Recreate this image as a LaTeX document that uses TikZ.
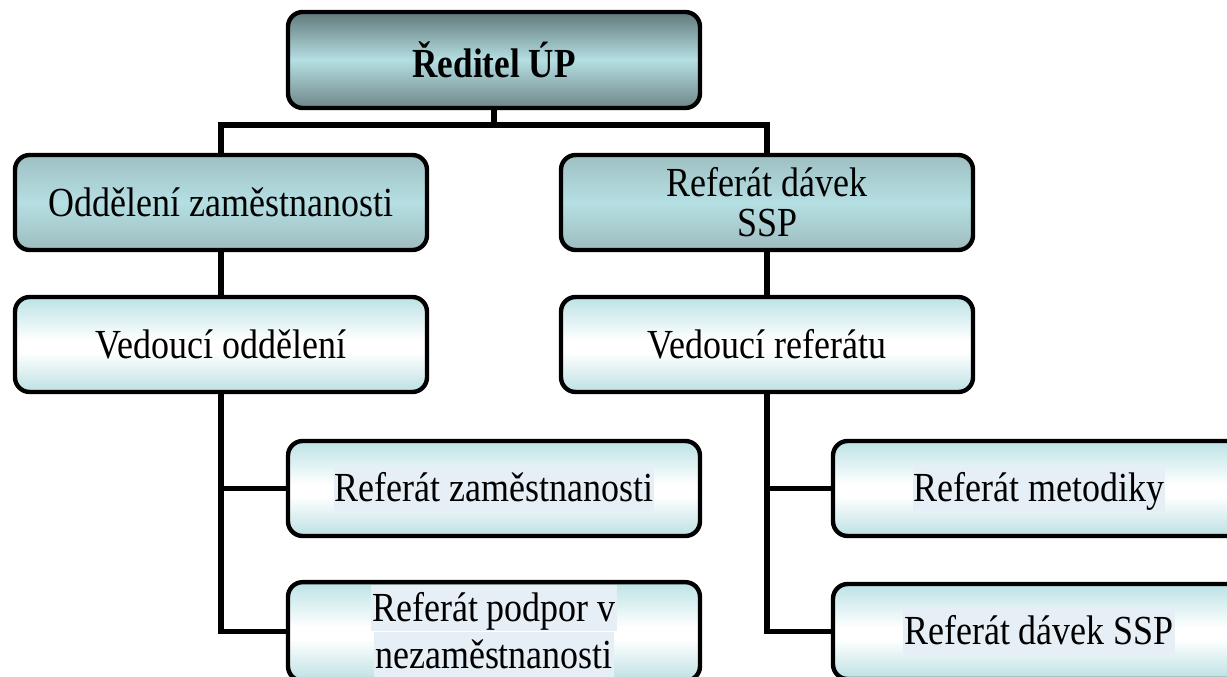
\documentclass[tikz,border=0pt]{standalone}
\usepackage{fontspec}
\setmainfont{Liberation Serif}
\definecolor{hl}{HTML}{E6EEF6}
\definecolor{tt}{HTML}{61797B}
\definecolor{tb}{HTML}{6E8688}
\definecolor{tm}{HTML}{B5DFE3}
\definecolor{mt}{HTML}{9EBFC2}
\definecolor{mb}{HTML}{9EBCBE}
\definecolor{lt}{HTML}{BCE2E5}
\definecolor{lb}{HTML}{BCE0E3}
\pgfdeclareverticalshading{topsh}{100bp}{color(0bp)=(tb); color(25bp)=(tb); color(50bp)=(tm); color(75bp)=(tt); color(100bp)=(tt)}
\pgfdeclareverticalshading{midsh}{100bp}{color(0bp)=(mb); color(25bp)=(mb); color(50bp)=(tm); color(75bp)=(mt); color(100bp)=(mt)}
\pgfdeclareverticalshading{lowsh}{100bp}{color(0bp)=(lb); color(25bp)=(lb); color(46bp)=(white); color(52bp)=(white); color(75bp)=(lt); color(100bp)=(lt)}
\newcommand{\sq}[1]{\scalebox{0.87}[1]{#1}}
\newcommand{\hlt}[1]{{\setlength{\fboxsep}{0.6pt}\colorbox{hl}{\vphantom{Řy}\sq{#1}}}}
\begin{document}
\begin{tikzpicture}[x=0.75pt,y=-0.75pt,
  orgbox/.style={draw=black, line width=3.3pt, rounded corners=11pt, rectangle,
    minimum width=309pt, minimum height=71.25pt, align=center, inner sep=2pt,
    font=\fontsize{31}{30}\selectfont},
  topbox/.style={orgbox, shading=topsh, minimum height=72pt, font=\fontsize{31}{30}\selectfont\bfseries},
  midbox/.style={orgbox, shading=midsh},
  lowbox/.style={orgbox, shading=lowsh},
  link/.style={draw=black, line width=3.8pt}]
\clip (0,0) rectangle (1227,677);
\fill[white] (0,0) rectangle (1227,677);
\node[topbox] (top) at (494,60) {\scalebox{0.85}[1]{Ředitel ÚP}};
\node[midbox] (odd) at (221,202.5) {\sq{Oddělení zaměstnanosti}};
\node[midbox] (ref) at (767,202.5) {\sq{Referát dávek}\\\sq{SSP}};
\node[lowbox] (ved1) at (221,344.5) {\sq{Vedoucí oddělení}};
\node[lowbox] (ved2) at (767,344.5) {\sq{Vedoucí referátu}};
\node[lowbox] (rz) at (494,488.5) {\hlt{Referát zaměstnanosti}};
\node[lowbox] (rp) at (494,631.5) {\hlt{Referát podpor v}\\\hlt{nezaměstnanosti}};
\node[lowbox] (rm) at (1039,488.5) {\hlt{Referát metodiky}};
\node[lowbox] (rd) at (1039,631.5) {\hlt{Referát dávek SSP}};
\coordinate (j) at (494,125);
\draw[link] (top.south) -- (j);
\draw[link] (j) -| (odd.north);
\draw[link] (j) -| (ref.north);
\draw[link] (odd.south) -- (ved1.north);
\draw[link] (ref.south) -- (ved2.north);
\draw[link] (ved1.south) |- (rz.west);
\draw[link] (ved1.south) |- (rp.west);
\draw[link] (ved2.south) |- (rm.west);
\draw[link] (ved2.south) |- (rd.west);
\end{tikzpicture}
\end{document}
